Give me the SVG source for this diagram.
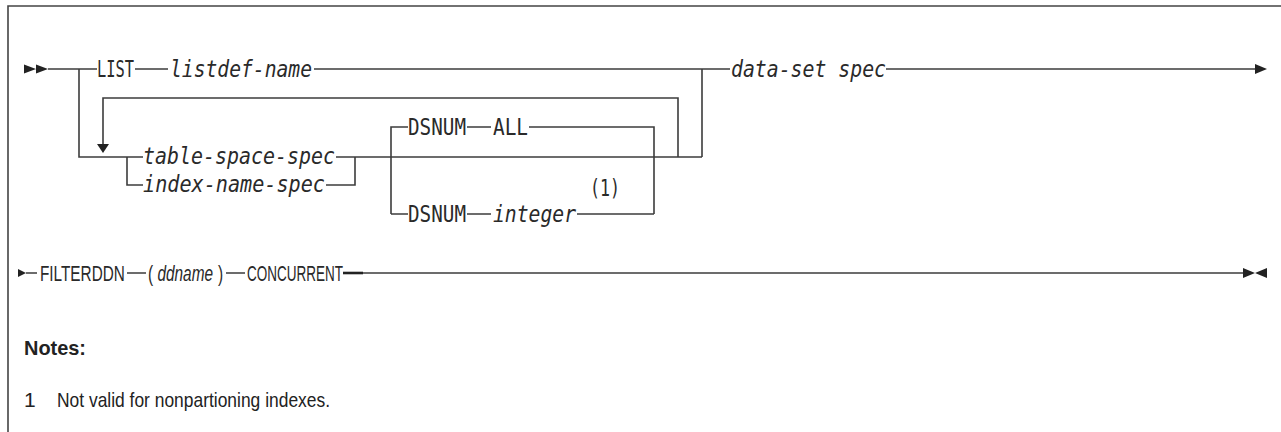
<svg xmlns="http://www.w3.org/2000/svg" width="1281" height="432" viewBox="0 0 1281 432">
<style>
.ln{stroke:#3c3c3c;stroke-width:1.6;fill:none}
.fr{stroke:#444;stroke-width:1.6;fill:none}
.ar{fill:#222}
.m{font-family:"DejaVu Sans Mono","Liberation Mono",monospace;font-size:23px;fill:#2a2a2a}
.i{font-style:italic}
.c{font-family:"Liberation Sans","DejaVu Sans",sans-serif;font-size:22px;fill:#2a2a2a}
.n{font-family:"Liberation Sans",Arial,sans-serif;fill:#222}
</style>
<rect width="1281" height="432" fill="#fff"/>
<g id="frame"><path class="fr" d="M8,432 V6 H1281"/></g>
<g id="connectors">
<path class="ar" d="M24,64.5 L24,73.5 L36,69 Z M36,64.5 L36,73.5 L48,69 Z"/>
<path class="ln" d="M48,69 H97 M79,69 V157 H143 M135,69 H168 M314,69 H730 M702,69 V157 M886,69 H1255"/>
<path class="ar" d="M1255,64 L1255,74 L1267,69 Z"/>
<path class="ln" d="M103,144 V98 H678 V157"/>
<path class="ar" d="M97,144 L109,144 L103,153 Z"/>
<path class="ln" d="M127,157 V185 H143 M336,157 H702 M326,185 H355 V157"/>
<path class="ln" d="M391,214 V127 H408 M467,127 H491 M529,127 H654 V214 M391,214 H408 M467,214 H491 M577,214 H654"/>
<path class="ar" d="M18,269 L18,277 L26,273 Z"/>
<path class="ln" d="M26,273 H37 M127,273 H146 M226,273 H245 M343,273 H1243"/>
<path d="M343,273 H363" stroke="#222" stroke-width="2.6"/>
<path class="ar" d="M1243,268 L1243,278 L1255,273 Z M1267,268 L1267,278 L1255,273 Z"/>
</g>
<g id="n-list"><text class="m" x="97" y="77" textLength="37" lengthAdjust="spacingAndGlyphs">LIST</text></g>
<g id="n-listdef"><text class="m i" x="170" y="77" textLength="142" lengthAdjust="spacingAndGlyphs">listdef-name</text></g>
<g id="n-dataset"><text class="m i" x="731" y="77" textLength="155" lengthAdjust="spacingAndGlyphs">data-set spec</text></g>
<g id="n-tablespace"><text class="m i" x="143" y="164" textLength="192" lengthAdjust="spacingAndGlyphs">table-space-spec</text></g>
<g id="n-indexname"><text class="m i" x="143" y="192" textLength="182" lengthAdjust="spacingAndGlyphs">index-name-spec</text></g>
<g id="n-dsnum-all"><text class="m" x="408" y="135" textLength="58" lengthAdjust="spacingAndGlyphs">DSNUM</text><text class="m" x="493" y="135" textLength="35" lengthAdjust="spacingAndGlyphs">ALL</text></g>
<g id="n-dsnum-int"><text class="m" x="590" y="196" textLength="30" lengthAdjust="spacingAndGlyphs">(1)</text><text class="m" x="408" y="222" textLength="58" lengthAdjust="spacingAndGlyphs">DSNUM</text><text class="m i" x="493" y="222" textLength="83" lengthAdjust="spacingAndGlyphs">integer</text></g>
<g id="n-filterddn" transform="translate(40,281) scale(0.697,1)"><text class="c" x="0" y="0">FILTERDDN</text></g>
<g id="n-ddname" transform="translate(148,281) scale(0.7,1)"><text class="c" x="0" y="0">(</text><text class="c i" x="13.5" y="0">ddname</text><text class="c" x="100" y="0">)</text></g>
<g id="n-concurrent" transform="translate(247,281) scale(0.614,1)"><text class="c" x="0" y="0">CONCURRENT</text></g>
<g id="notes">
<text class="n" x="24" y="355" font-size="21" font-weight="bold" textLength="62" lengthAdjust="spacingAndGlyphs">Notes:</text>
<text class="n" x="24" y="407" font-size="21">1</text>
<text class="n" x="57" y="407" font-size="21" textLength="273" lengthAdjust="spacingAndGlyphs">Not valid for nonpartioning indexes.</text>
</g>
</svg>
